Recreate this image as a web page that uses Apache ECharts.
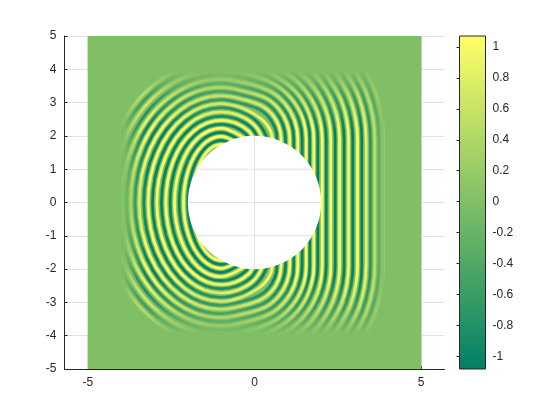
<!DOCTYPE html>
<html><head><meta charset="utf-8">
<script src="https://cdn.jsdelivr.net/npm/echarts@6/dist/echarts.min.js"></script>
<style>html,body{margin:0;background:#fff}#c{width:560px;height:420px}</style></head>
<body><div id="c"></div><script>
// The field is too dense to read cell by cell, so it is drawn as crest and trough contours.
// Points are x,y pairs estimated from the picture (a hand-fitted approximation, not measured data).
const crestContours = [
[-.5,1.6,-1,1.74,-1.44,1.51,-1.75,.87,-1.87,0,-1.75,-.87,-1.44,-1.51,-1,-1.74,-.5,-1.6],
[-.44,1.72,-1,1.98,-1.57,1.71,-1.98,.99,-2.13,0,-1.98,-.99,-1.57,-1.71,-1,-1.98,-.44,-1.72],
[-.3,1.93,-1,2.23,-1.7,1.93,-2.21,1.11,-2.4,0,-2.21,-1.11,-1.7,-1.93,-1,-2.23,-.3,-1.93],
[-.02,1.87,-.17,2.14,-.57,2.39,-1,2.47,-1.83,2.14,-2.44,1.24,-2.66,0,-2.44,-1.24,-1.83,-2.14,-1,-2.47,-.57,-2.39,-.17,-2.14,-.02,-1.87],
[.32,1.51,.22,1.97,-.04,2.36,-.5,2.63,-1,2.72,-1.96,2.36,-2.67,1.36,-2.93,0,-2.67,-1.36,-1.96,-2.36,-1,-2.72,-.5,-2.63,-.04,-2.36,.22,-1.97,.32,-1.51],
[.55,1.8,.48,2.15,.3,2.42,.05,2.62,-.43,2.86,-1,2.97,-2.1,2.57,-2.9,1.48,-3.19,0,-2.9,-1.48,-2.1,-2.57,-1,-2.97,-.43,-2.86,.05,-2.62,.3,-2.42,.48,-2.15,.55,-1.8],
[.8,1.7,.8,1.9,.73,2.3,.53,2.65,.22,2.9,-.36,3.1,-1,3.21,-2.23,2.78,-3.13,1.61,-3.46,0,-3.13,-1.61,-2.23,-2.78,-1,-3.21,-.36,-3.1,.22,-2.9,.53,-2.65,.73,-2.3,.8,-1.9,.8,-1.7],
[1.06,1.6,1.06,1.9,.97,2.39,.73,2.81,.35,3.13,-.3,3.34,-1,3.46,-2.36,3,-3.36,1.73,-3.72,0,-3.36,-1.73,-2.36,-3,-1,-3.46,-.3,-3.34,.35,-3.13,.73,-2.81,.97,-2.39,1.06,-1.9,1.06,-1.6],
[1.3,1.4,1.3,1.9,1.2,2.47,.91,2.97,.47,3.34,-.23,3.58,-1,3.71,-2.49,3.21,-3.59,1.85,-3.99,0,-3.59,-1.85,-2.49,-3.21,-1,-3.71,-.23,-3.58,.47,-3.34,.91,-2.97,1.2,-2.47,1.3,-1.9,1.3,-1.4],
[1.55,1.2,1.55,1.9,1.44,2.55,1.1,3.13,.6,3.55,-.15,3.85,-1,3.99,-2.65,3.46,-3.85,2,-4.29,0,-3.85,-2,-2.65,-3.46,-1,-3.99,-.15,-3.85,.6,-3.55,1.1,-3.13,1.44,-2.55,1.55,-1.9,1.55,-1.2],
[1.78,.8,1.78,1.9,1.65,2.63,1.28,3.28,.71,3.75,-.07,4.12,-1,4.27,-2.8,3.7,-4.11,2.13,-4.59,0,-4.11,-2.13,-2.8,-3.7,-1,-4.27,-.07,-4.12,.71,-3.75,1.28,-3.28,1.65,-2.63,1.78,-1.9,1.78,-.8],
[.01,4.4,.84,3.97,1.47,3.44,1.89,2.72,2.03,1.9,2.03,0,2.03,-1.9,1.89,-2.72,1.47,-3.44,.84,-3.97,.01,-4.4],
[.97,4.19,1.67,3.6,2.13,2.81,2.29,1.9,2.29,0,2.29,-1.9,2.13,-2.81,1.67,-3.6,.97,-4.19],
[1.1,4.42,1.87,3.77,2.38,2.9,2.55,1.9,2.55,0,2.55,-1.9,2.38,-2.9,1.87,-3.77,1.1,-4.42],
[1.68,4.34,2.08,3.94,2.63,2.99,2.82,1.9,2.82,0,2.82,-1.9,2.63,-2.99,2.08,-3.94,1.68,-4.34],
[2.28,4.12,2.88,3.08,3.09,1.9,3.09,0,3.09,-1.9,2.88,-3.08,2.28,-4.12],
[2.48,4.29,3.13,3.17,3.35,1.9,3.35,0,3.35,-1.9,3.13,-3.17,2.48,-4.29],
[2.68,4.45,3.37,3.26,3.61,1.9,3.61,0,3.61,-1.9,3.37,-3.26,2.68,-4.45],
[2.88,4.62,3.62,3.35,3.87,1.9,3.87,0,3.87,-1.9,3.62,-3.35,2.88,-4.62]
];
const troughContours = [
[-.6,1.75,-1,1.86,-1.5,1.61,-1.87,.93,-2,0,-1.87,-.93,-1.5,-1.61,-1,-1.86,-.6,-1.75],
[-.37,1.82,-1,2.1,-1.63,1.82,-2.09,1.05,-2.26,0,-2.09,-1.05,-1.63,-1.82,-1,-2.1,-.37,-1.82],
[-.14,1.81,-.24,2.04,-.6,2.27,-1,2.35,-1.77,2.04,-2.33,1.18,-2.53,0,-2.33,-1.18,-1.77,-2.04,-1,-2.35,-.6,-2.27,-.24,-2.04,-.14,-1.81],
[.18,1.51,.1,1.92,-.1,2.25,-.54,2.51,-1,2.59,-1.9,2.25,-2.55,1.3,-2.79,0,-2.55,-1.3,-1.9,-2.25,-1,-2.59,-.54,-2.51,-.1,-2.25,.1,-1.92,.18,-1.51],
[.45,1.51,.34,2.02,.03,2.47,-.47,2.75,-1,2.85,-2.03,2.47,-2.78,1.42,-3.06,0,-2.78,-1.42,-2.03,-2.47,-1,-2.85,-.47,-2.75,.03,-2.47,.34,-2.02,.45,-1.51],
[.67,1.75,.67,2,.61,2.25,.43,2.56,.16,2.79,-.4,2.98,-1,3.09,-2.16,2.68,-3.01,1.54,-3.32,0,-3.01,-1.54,-2.16,-2.68,-1,-3.09,-.4,-2.98,.16,-2.79,.43,-2.56,.61,-2.25,.67,-2,.67,-1.75],
[.93,1.6,.93,1.9,.85,2.34,.63,2.73,.29,3.02,-.33,3.22,-1,3.34,-2.3,2.89,-3.24,1.67,-3.59,0,-3.24,-1.67,-2.3,-2.89,-1,-3.34,-.33,-3.22,.29,-3.02,.63,-2.73,.85,-2.34,.93,-1.9,.93,-1.6],
[1.18,1.5,1.18,1.9,1.09,2.43,.82,2.89,.41,3.23,-.26,3.46,-1,3.58,-2.43,3.1,-3.47,1.79,-3.85,0,-3.47,-1.79,-2.43,-3.1,-1,-3.58,-.26,-3.46,.41,-3.23,.82,-2.89,1.09,-2.43,1.18,-1.9,1.18,-1.5],
[1.43,1.2,1.43,1.9,1.32,2.51,1.01,3.05,.54,3.45,-.19,3.71,-1,3.84,-2.57,3.33,-3.71,1.92,-4.13,0,-3.71,-1.92,-2.57,-3.33,-1,-3.84,-.19,-3.71,.54,-3.45,1.01,-3.05,1.32,-2.51,1.43,-1.9,1.43,-1.2],
[1.66,1,1.66,1.9,1.54,2.59,1.19,3.2,.65,3.65,-.11,3.99,-1,4.13,-2.72,3.58,-3.98,2.07,-4.44,0,-3.98,-2.07,-2.72,-3.58,-1,-4.13,-.11,-3.99,.65,-3.65,1.19,-3.2,1.54,-2.59,1.66,-1.9,1.66,-1],
[-.03,4.27,.77,3.86,1.37,3.35,1.76,2.67,1.9,1.9,1.9,0,1.9,-1.9,1.76,-2.67,1.37,-3.35,.77,-3.86,-.03,-4.27],
[.9,4.07,1.56,3.51,2,2.76,2.15,1.9,2.15,0,2.15,-1.9,2,-2.76,1.56,-3.51,.9,-4.07],
[1.03,4.31,1.77,3.69,2.25,2.85,2.42,1.9,2.42,0,2.42,-1.9,2.25,-2.85,1.77,-3.69,1.03,-4.31],
[1.6,4.24,1.98,3.86,2.51,2.94,2.69,1.9,2.69,0,2.69,-1.9,2.51,-2.94,1.98,-3.86,1.6,-4.24],
[2.18,4.03,2.75,3.03,2.95,1.9,2.95,0,2.95,-1.9,2.75,-3.03,2.18,-4.03],
[2.38,4.2,3.01,3.12,3.22,1.9,3.22,0,3.22,-1.9,3.01,-3.12,2.38,-4.2],
[2.58,4.37,3.25,3.21,3.48,1.9,3.48,0,3.48,-1.9,3.25,-3.21,2.58,-4.37],
[2.78,4.54,3.49,3.3,3.74,1.9,3.74,0,3.74,-1.9,3.49,-3.3,2.78,-4.54]
];
const fieldExtent = [[-5,5,-5,5]];
const edgeBands = [[-5,-3.95,-5,5],[3.9,5,-5,5],[-5,5,3.95,5],[-5,5,-5,-3.95]];
const fadeBands = [[-3.95,-3.2,-3.95,3.95],[3.2,3.9,-3.95,3.95],[-3.95,3.9,2.2,3.95],[-3.95,3.9,-3.95,-2.2]];
const holeCircle = [[0,0,2]];
const holeGridLines = [[-1.73,1,1.73,1],[-2,0,2,0],[-1.73,-1,1.73,-1],[0,-2,0,2]];
const xTicks = [-5,0,5];
const yTicks = [-5,-4,-3,-2,-1,0,1,2,3,4,5];
const barTicks = [-1,-.8,-.6,-.4,-.2,0,.2,.4,.6,.8,1];
const barExtent = [[0,1,-1.08,1.07]];
const FIELD='#80bf66', HI='#ffff66', LO='#008066', INK='#262626', GRID='#e2e2e2';

const pairs = f => { const o=[]; for(let i=0;i<f.length;i+=2) o.push([f[i],f[i+1]]); return o; };
const contourSeries = (f,color) => ({type:'line',data:pairs(f),smooth:.36,showSymbol:false,silent:true,z:2,animation:false,
  lineStyle:{color,width:2.4,opacity:.9,shadowBlur:2,shadowColor:color,cap:'butt'}});
const box = (api) => {
  const a=api.coord([api.value(0),api.value(3)]), b=api.coord([api.value(1),api.value(2)]);
  return {x:a[0],y:a[1],width:b[0]-a[0],height:b[1]-a[1]};
};
const rectSeries = (data,z,style,extra) => Object.assign({type:'custom',data,z,silent:true,animation:false,
  renderItem:(p,api)=>({type:'rect',shape:box(api),style:typeof style==='function'?style(p.dataIndex):style})},extra||{});
const grad = (x,y,x2,y2,mid,alpha) => ({type:'linear',x,y,x2,y2,colorStops:[
  {offset:0,color:'rgba(128,191,102,1)'},{offset:mid,color:`rgba(128,191,102,${alpha})`},{offset:1,color:'rgba(128,191,102,0)'}]});
const fadeGrad = [grad(0,0,1,0,.6,.3),grad(1,0,0,0,.6,.3),grad(0,0,0,1,.45,.42),grad(0,1,0,0,.45,.42)];

const axisBase = {axisLine:{onZero:false,lineStyle:{color:INK,width:1}},axisTick:{inside:true,length:3,lineStyle:{color:INK}},
  axisLabel:{color:INK,fontFamily:'Liberation Sans',fontSize:12,margin:8},splitLine:{show:true,lineStyle:{color:GRID,width:1}}};

echarts.init(document.getElementById('c'),null,{renderer:'canvas'}).setOption({
  animation:false,backgroundColor:'#fff',
  grid:[{left:64.5,top:36,width:380,height:333},{left:459.5,top:36,width:26,height:333}],
  xAxis:[
    Object.assign({},axisBase,{type:'value',gridIndex:0,min:-5.7,max:5.7,
      axisTick:Object.assign({},axisBase.axisTick,{customValues:xTicks}),
      axisLabel:Object.assign({},axisBase.axisLabel,{customValues:xTicks,margin:8})}),
    {type:'value',gridIndex:1,min:0,max:1,show:false}
  ],
  yAxis:[
    Object.assign({},axisBase,{type:'value',gridIndex:0,min:-5,max:5,interval:1,
      axisTick:Object.assign({},axisBase.axisTick,{customValues:yTicks}),
      axisLabel:Object.assign({},axisBase.axisLabel,{customValues:yTicks})}),
    {type:'value',gridIndex:1,min:-1.08,max:1.07,position:'right',z:10,
      axisLine:{show:false},splitLine:{show:false},
      axisTick:{inside:true,length:3,lineStyle:{color:INK},customValues:barTicks},
      axisLabel:{color:INK,fontFamily:'Liberation Sans',fontSize:12,margin:7,customValues:barTicks,formatter:v=>String(+v.toFixed(1))}}
  ],
  series:[
    rectSeries(fieldExtent,1,{fill:FIELD}),
    ...troughContours.map(f=>contourSeries(f,LO)),
    ...crestContours.map(f=>contourSeries(f,HI)),
    rectSeries(fadeBands,3,i=>({fill:fadeGrad[i]})),
    rectSeries(edgeBands,3,{fill:FIELD}),
    {type:'custom',data:holeCircle,z:4,silent:true,animation:false,
      renderItem:(p,api)=>{const c=api.coord([api.value(0),api.value(1)]);
        return {type:'circle',shape:{cx:c[0],cy:c[1],r:api.size([api.value(2),0])[0]},style:{fill:'#fff'}};}},
    {type:'custom',data:holeGridLines,z:5,silent:true,animation:false,
      renderItem:(p,api)=>{const a=api.coord([api.value(0),api.value(1)]),b=api.coord([api.value(2),api.value(3)]);
        return {type:'line',shape:{x1:a[0],y1:a[1],x2:b[0],y2:b[1]},style:{stroke:GRID,lineWidth:1}};}},
    rectSeries(barExtent,6,{fill:{type:'linear',x:0,y:1,x2:0,y2:0,colorStops:[{offset:0,color:LO},{offset:1,color:HI}]},stroke:INK,lineWidth:1},{xAxisIndex:1,yAxisIndex:1})
  ]
});
</script></body></html>
